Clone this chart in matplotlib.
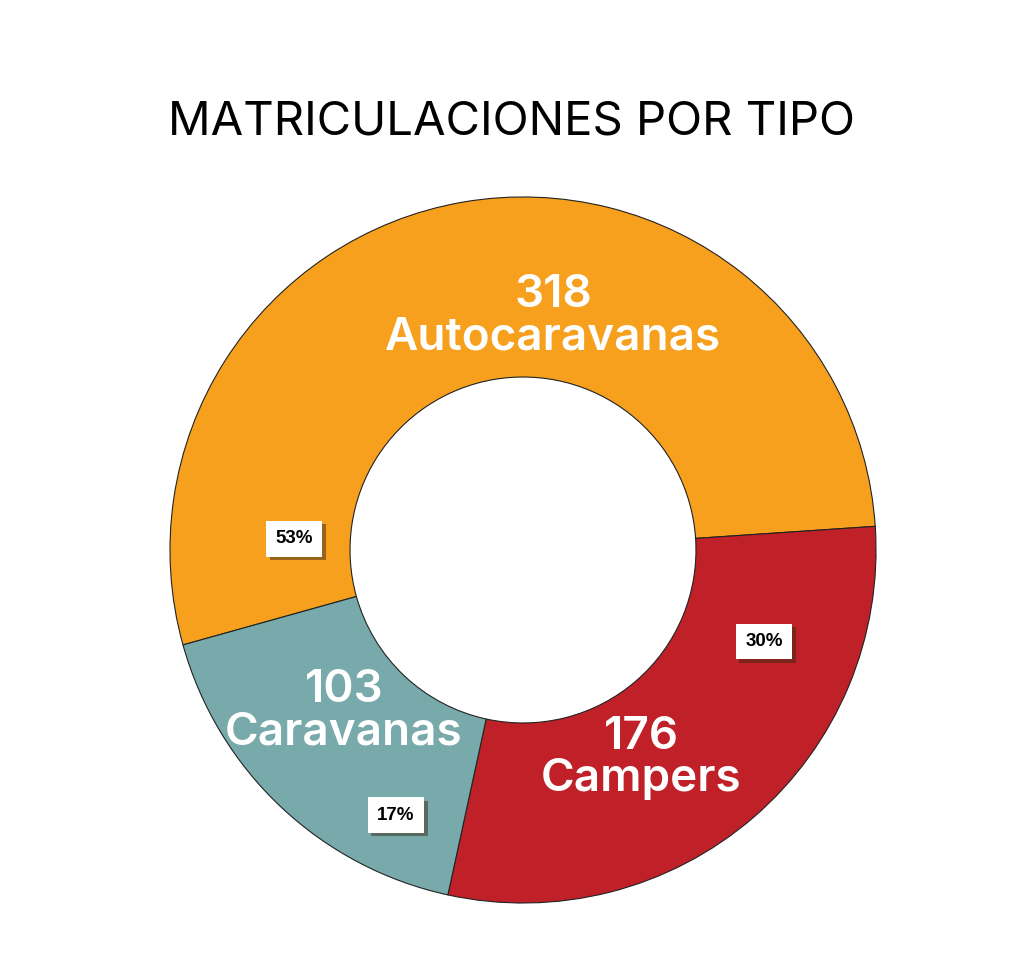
import matplotlib
matplotlib.use("Agg")
import matplotlib.pyplot as plt
import matplotlib.patheffects as pe

categories = ["Autocaravanas", "Campers", "Caravanas"]
values = [318, 176, 103]
pct_labels = ["53%", "30%", "17%"]
colors = ["#F7A01E", "#C02027", "#78A9AB"]

title = "MATRICULACIONES POR TIPO"

# label positions (data coords, unit circle)
name_pos = [(0.085, 0.662), (0.334, -0.59), (-0.507, -0.457)]
pct_pos = [(-0.648, 0.032), (0.683, -0.259), (-0.36, -0.751)]

fig = plt.figure(figsize=(10.24, 9.58), dpi=100)
ax = fig.add_axes([0.166, 0.0574, 0.6895, 0.737])
ax.set_aspect("equal")

ax.pie(values, colors=colors, startangle=195.6, counterclock=False,
       radius=1.0,
       wedgeprops=dict(width=0.51, edgecolor="#222222", linewidth=0.8))
ax.set_xlim(-1, 1)
ax.set_ylim(-1, 1)
ax.axis("off")

for cat, v, (x, y) in zip(categories, values, name_pos):
    ax.text(x, y, f"{v}\n{cat}", ha="center", va="center", color="white",
            fontsize=33, family=["Inter", "DejaVu Sans"], fontweight="semibold",
            linespacing=1.0)

for lab, (x, y) in zip(pct_labels, pct_pos):
    ax.text(x, y, lab, ha="center", va="center",
            fontsize=13.5, family=["Liberation Sans", "DejaVu Sans"],
            fontweight="bold", color="black",
            bbox=dict(boxstyle="square,pad=0.5", facecolor="white",
                      edgecolor="none",
                      path_effects=[pe.withSimplePatchShadow(offset=(2.5, -2.5),
                                    shadow_rgbFace="#3a2a15", alpha=0.5)]))

fig.text(0.5, 0.872, title, ha="center", va="center", fontsize=34,
         family=["Inter", "DejaVu Sans"], fontweight="normal", color="black")

fig.savefig("out.png", dpi=100, facecolor="white")
